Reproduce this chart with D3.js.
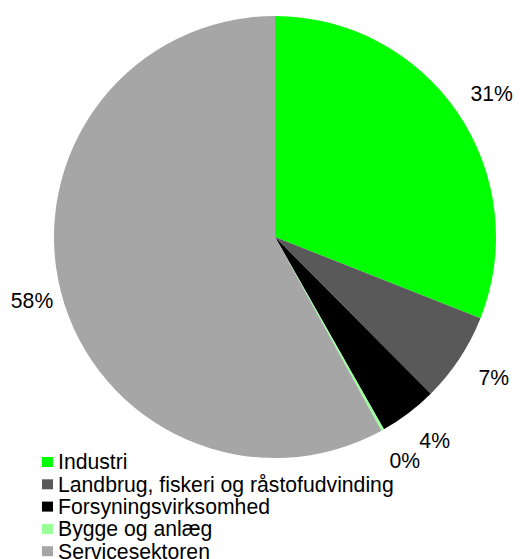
<!DOCTYPE html>
<html>
<head>
<meta charset="utf-8">
<script src="https://cdn.jsdelivr.net/npm/d3@7"></script>
<style>
  body { margin: 0; background: #fff; }
  svg { display: block; }
</style>
</head>
<body>
<div id="chart"></div>
<script>
// sector shares (percent)
var categories = ["Industri", "Landbrug, fiskeri og råstofudvinding", "Forsyningsvirksomhed", "Bygge og anlæg", "Servicesektoren"];
var shares = [31.0, 6.55, 4.25, 0.2, 58.0];
var labels = ["31%", "7%", "4%", "0%", "58%"];
var colors = ["#00ff00", "#595959", "#000000", "#99ff99", "#a6a6a6"];

var WIDTH = 521, HEIGHT = 559;
var CX = 275, CY = 237, R = 221, LABEL_R = 256;
var FONT = "21.2px 'Liberation Sans', Arial, sans-serif";

var data = categories.map((c, i) => ({ name: c, value: shares[i], label: labels[i], color: colors[i] }));

const svg = d3.select("#chart").append("svg")
  .attr("width", WIDTH)
  .attr("height", HEIGHT);

var pie = d3.pie().sort(null).value(d => d.value);
var arc = d3.arc().innerRadius(0).outerRadius(R);
var labelArc = d3.arc().innerRadius(LABEL_R).outerRadius(LABEL_R);

const g = svg.append("g")
  .attr("transform", "translate(" + CX + "," + CY + ")");

var arcs = pie(data);

g.selectAll("path")
  .data(arcs)
  .enter().append("path")
  .attr("d", arc)
  .attr("fill", d => d.data.color);

g.selectAll("text")
  .data(arcs)
  .enter().append("text")
  .attr("transform", d => "translate(" + labelArc.centroid(d) + ")")
  .attr("text-anchor", "middle")
  .attr("dx", 5)
  .attr("dy", "0.35em")
  .style("font", FONT)
  .attr("fill", "#000")
  .text(d => d.data.label);

// legend
var LEG_X = 42, LEG_Y = 462, LEG_STEP = 22.3;
const legend = svg.append("g")
  .attr("transform", "translate(" + LEG_X + "," + LEG_Y + ")");

const item = legend.selectAll("g")
  .data(data)
  .enter().append("g")
  .attr("transform", (d, i) => "translate(0," + (i * LEG_STEP) + ")");

item.append("rect")
  .attr("x", 0)
  .attr("y", -5)
  .attr("width", 11)
  .attr("height", 10)
  .attr("fill", d => d.color);

item.append("text")
  .attr("x", 16)
  .attr("dy", "0.35em")
  .style("font", FONT)
  .attr("fill", "#000")
  .text(d => d.name);
</script>
</body>
</html>
